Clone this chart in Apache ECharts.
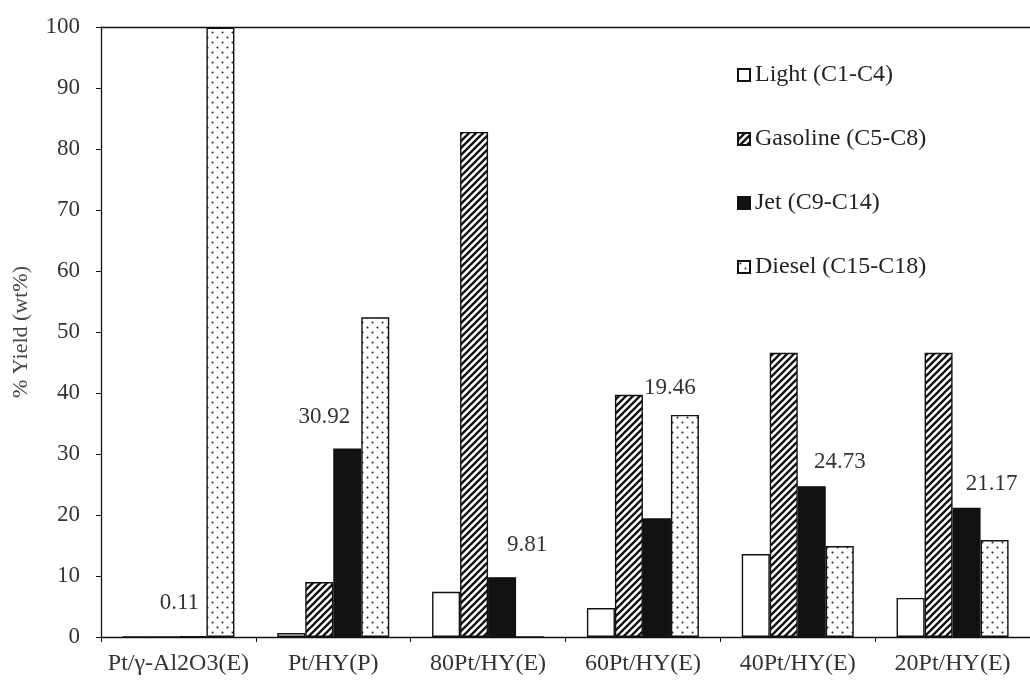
<!DOCTYPE html>
<html>
<head>
<meta charset="utf-8">
<script src="https://cdn.jsdelivr.net/npm/echarts@6/dist/echarts.min.js"></script>
<style>
  html, body { margin: 0; padding: 0; background: #fff; }
  #chart { width: 1030px; height: 680px; }
</style>
</head>
<body>
<div id="chart"></div>
<script>
// Product distribution (% yield, wt%) by catalyst
const catalysts = ['Pt/γ-Al2O3(E)', 'Pt/HY(P)', '80Pt/HY(E)', '60Pt/HY(E)', '40Pt/HY(E)', '20Pt/HY(E)'];
const seriesNames = ['Light (C1-C4)', 'Gasoline (C5-C8)', 'Jet (C9-C14)', 'Diesel (C15-C18)'];
const lightYield = [0, 0.65, 7.4, 4.75, 13.6, 6.4];
const gasolineYield = [0, 9.0, 82.8, 39.7, 46.6, 46.6];
const jetYield = [0.11, 30.92, 9.81, 19.46, 24.73, 21.17];
const dieselYield = [99.89, 52.4, 0, 36.4, 14.9, 15.9];
// label nudges for the jet-fraction values [dx, dy]
const jetLabelOffsets = [[-13, -22], [-23, -20], [25, -21], [13, -119], [28, -13], [25, -12]];

const FONT = 'Liberation Serif';
const INK = '#111';

function hatchPattern() {
  const s = 7;
  const c = document.createElement('canvas');
  c.width = s; c.height = s;
  const g = c.getContext('2d');
  g.fillStyle = '#fff';
  g.fillRect(0, 0, s, s);
  g.strokeStyle = INK;
  g.lineWidth = 2.3;
  g.beginPath();
  g.moveTo(-1, s + 1); g.lineTo(s + 1, -1);
  g.moveTo(-2, 2); g.lineTo(2, -2);
  g.moveTo(s - 2, s + 2); g.lineTo(s + 2, s - 2);
  g.stroke();
  return { image: c, repeat: 'repeat' };
}

function dotPattern() {
  const w = 10, h = 10;
  const c = document.createElement('canvas');
  c.width = w; c.height = h;
  const g = c.getContext('2d');
  g.fillStyle = '#fff';
  g.fillRect(0, 0, w, h);
  g.fillStyle = '#222';
  [[2.5, 2.5], [7.5, 7.5]].forEach(function (p) {
    g.beginPath();
    g.arc(p[0], p[1], 1.0, 0, Math.PI * 2);
    g.fill();
  });
  return { image: c, repeat: 'repeat' };
}

const fills = ['#ffffff', hatchPattern(), '#121212', dotPattern()];
const values = [lightYield, gasolineYield, jetYield, dieselYield];

const series = seriesNames.map(function (name, i) {
  const s = {
    name: name,
    type: 'bar',
    barWidth: 28,
    barGap: '0%',
    itemStyle: { color: fills[i], borderColor: INK, borderWidth: 1.4 },
    emphasis: { disabled: true },
    data: values[i].slice()
  };
  if (i === 2) {
    s.data = values[i].map(function (v, k) {
      return {
        value: v,
        label: {
          show: true,
          position: 'top',
          distance: 0,
          offset: jetLabelOffsets[k],
          formatter: function (p) { return p.value.toFixed(2); },
          fontFamily: FONT,
          fontSize: 23,
          color: '#333'
        }
      };
    });
  }
  return s;
});

const chart = echarts.init(document.getElementById('chart'), null, { renderer: 'canvas' });
chart.setOption({
  backgroundColor: '#ffffff',
  animation: false,
  textStyle: { fontFamily: FONT },
  grid: { left: 101, right: 0, top: 27, bottom: 43, containLabel: false, outerBoundsMode: 'none' },
  legend: {
    orient: 'vertical',
    left: 732,
    top: 58,
    itemWidth: 12,
    itemHeight: 12,
    itemGap: 40,
    icon: 'rect',
    textStyle: { fontFamily: FONT, fontSize: 24, color: '#222' },
    data: seriesNames
  },
  xAxis: [
    {
      type: 'category',
      data: catalysts,
      axisLine: { lineStyle: { color: INK, width: 1.3 } },
      axisTick: { show: true, length: 5, lineStyle: { color: INK } },
      axisLabel: { interval: 0, hideOverlap: false, fontFamily: FONT, fontSize: 24, color: '#333', margin: 15 }
    },
    {
      type: 'category',
      position: 'top',
      data: catalysts,
      axisLine: { lineStyle: { color: INK, width: 1.3 } },
      axisTick: { show: false },
      axisLabel: { show: false }
    }
  ],
  yAxis: {
    type: 'value',
    min: 0,
    max: 100,
    interval: 10,
    name: '% Yield (wt%)',
    nameLocation: 'middle',
    nameRotate: 90,
    nameGap: 69,
    nameTextStyle: { fontFamily: FONT, fontSize: 22, color: '#444' },
    axisLine: { show: true, lineStyle: { color: INK, width: 1.3 } },
    axisTick: { show: true, inside: false, length: 5, lineStyle: { color: INK } },
    splitLine: { show: false },
    axisLabel: { fontFamily: FONT, fontSize: 23, color: '#333', margin: 21 }
  },
  series: series
});
</script>
</body>
</html>
